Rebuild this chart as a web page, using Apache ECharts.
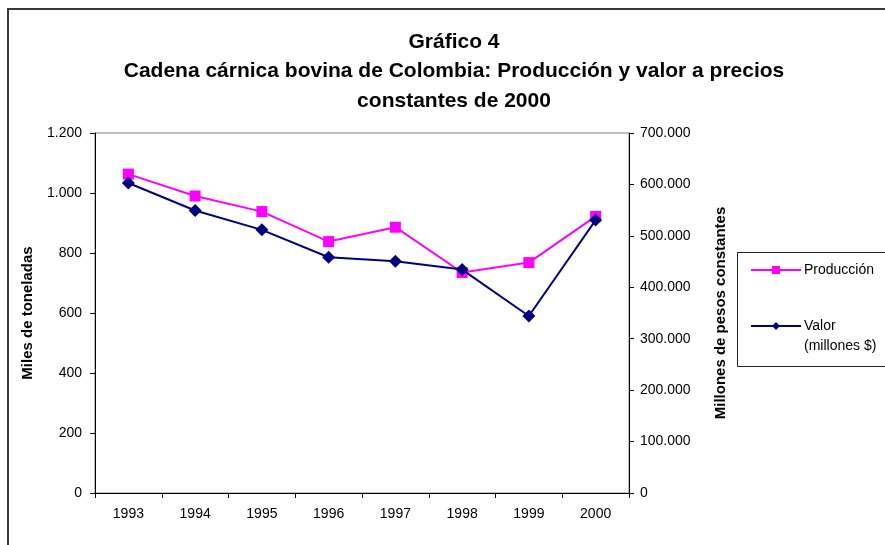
<!DOCTYPE html>
<html>
<head>
<meta charset="utf-8">
<script src="https://cdn.jsdelivr.net/npm/echarts@6/dist/echarts.min.js"></script>
<style>
  html, body { margin: 0; padding: 0; background: #fff; }
  #chart { width: 885px; height: 545px; }
</style>
</head>
<body>
<div id="chart"></div>
<script>
const years = ['1993', '1994', '1995', '1996', '1997', '1998', '1999', '2000']
const produccion = [1063, 990, 938, 838, 886, 735, 768, 922]
const valor = [602700, 549300, 511700, 458500, 450700, 434400, 344200, 530600]

const fontFamily = '"Liberation Sans", Arial, sans-serif'
const magenta = '#ff00ff'
const navy = '#000080'

// thousands with dot separator, e.g. 1.200 / 700.000
const fmtMiles = (v) => String(v).replace(/\B(?=(\d{3})+(?!\d))/g, '.')

const chart = echarts.init(document.getElementById('chart'))

chart.setOption({
  animation: false,
  backgroundColor: '#fff',
  textStyle: { fontFamily },
  title: {
    text: 'Gráfico 4\nCadena cárnica bovina de Colombia: Producción y valor a precios\nconstantes de 2000',
    left: 454,
    top: 27,
    padding: 0,
    textAlign: 'center',
    textStyle: {
      fontFamily,
      fontSize: 21,
      fontWeight: 'bold',
      color: '#000',
      lineHeight: 29.5,
    },
  },
  graphic: [
    {
      type: 'rect',
      shape: { x: 8, y: 9, width: 900, height: 560 },
      style: { fill: 'none', stroke: '#3a3a3a', lineWidth: 2 },
      silent: true,
    },
    {
      type: 'rect',
      shape: { x: 737.5, y: 252.5, width: 200, height: 114 },
      style: { fill: '#fff', stroke: '#222', lineWidth: 1 },
      silent: true,
      z: 0,
    },
  ],
  legend: {
    orient: 'vertical',
    left: 750,
    top: 263,
    itemWidth: 50,
    itemHeight: 10,
    itemGap: 19,
    padding: 0,
    // blank first line keeps the marker level with "Valor"
    formatter: (name) => (name === 'Valor' ? ' \nValor\n(millones $)' : name),
    textStyle: { fontFamily, fontSize: 14, color: '#000', padding: [0, 0, 0, -2] },
    data: [
      { name: 'Producción' },
      { name: 'Valor', textStyle: { lineHeight: 20 } },
    ],
    z: 5,
  },
  grid: {
    left: 95,
    right: 256,
    top: 133,
    bottom: 52,
    show: true,
    borderColor: '#808080',
    borderWidth: 1,
    backgroundColor: 'transparent',
  },
  xAxis: {
    type: 'category',
    data: years,
    boundaryGap: true,
    axisLine: { lineStyle: { color: '#000', width: 1 } },
    axisTick: { show: true, length: 5, alignWithLabel: false, lineStyle: { color: '#000' } },
    axisLabel: { color: '#000', fontSize: 14, margin: 14, fontFamily },
    splitLine: { show: false },
  },
  yAxis: [
    {
      type: 'value',
      min: 0,
      max: 1200,
      interval: 200,
      name: 'Miles de toneladas',
      nameLocation: 'middle',
      nameGap: 60,
      nameRotate: 90,
      nameTextStyle: { fontFamily, fontSize: 15, fontWeight: 'bold', color: '#000' },
      axisLine: { show: true, lineStyle: { color: '#000' } },
      axisTick: { show: true, length: 5, lineStyle: { color: '#000' } },
      axisLabel: { color: '#000', fontSize: 14, margin: 13, fontFamily, formatter: fmtMiles },
      splitLine: { show: false },
    },
    {
      type: 'value',
      min: 0,
      max: 700000,
      interval: 100000,
      position: 'right',
      name: 'Millones de pesos constantes',
      nameLocation: 'middle',
      nameGap: 84,
      nameRotate: 90,
      nameTextStyle: { fontFamily, fontSize: 15, fontWeight: 'bold', color: '#000' },
      axisLine: { show: true, lineStyle: { color: '#000' } },
      axisTick: { show: true, length: 5, lineStyle: { color: '#000' } },
      axisLabel: { color: '#000', fontSize: 14, margin: 11, fontFamily, formatter: fmtMiles },
      splitLine: { show: false },
    },
  ],
  series: [
    {
      name: 'Producción',
      type: 'line',
      yAxisIndex: 0,
      data: produccion,
      symbol: 'rect',
      symbolSize: 11,
      lineStyle: { color: magenta, width: 2 },
      itemStyle: { color: magenta },
      z: 3,
    },
    {
      name: 'Valor',
      type: 'line',
      yAxisIndex: 1,
      data: valor,
      symbol: 'diamond',
      symbolSize: 13,
      lineStyle: { color: navy, width: 2 },
      itemStyle: { color: navy },
      z: 4,
    },
  ],
})
</script>
</body>
</html>
